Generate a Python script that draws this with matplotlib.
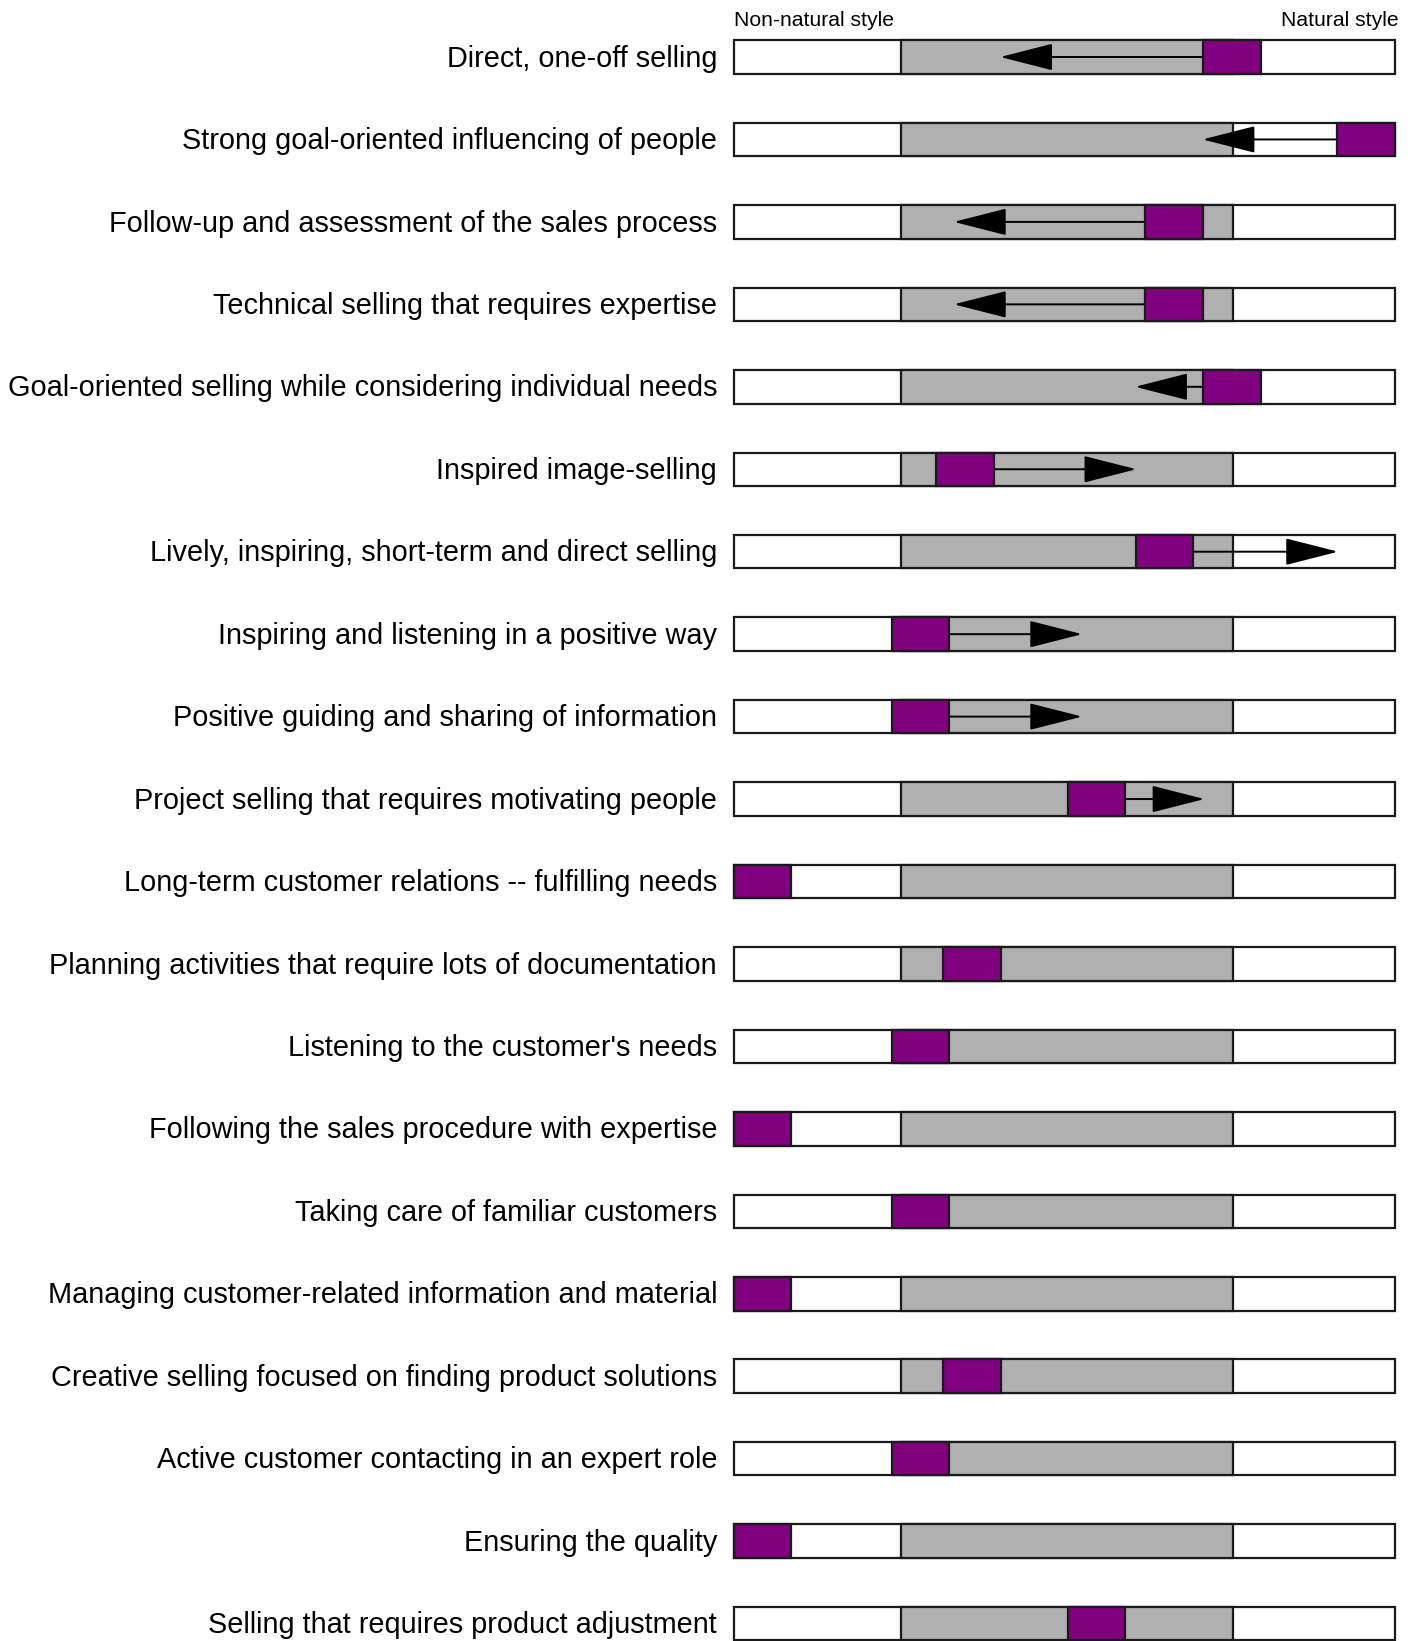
import matplotlib
matplotlib.use("Agg")
import matplotlib.pyplot as plt
from matplotlib.patches import Rectangle

categories = [
    "Direct, one-off selling",
    "Strong goal-oriented influencing of people",
    "Follow-up and assessment of the sales process",
    "Technical selling that requires expertise",
    "Goal-oriented selling while considering individual needs",
    "Inspired image-selling",
    "Lively, inspiring, short-term and direct selling",
    "Inspiring and listening in a positive way",
    "Positive guiding and sharing of information",
    "Project selling that requires motivating people",
    "Long-term customer relations -- fulfilling needs",
    "Planning activities that require lots of documentation",
    "Listening to the customer's needs",
    "Following the sales procedure with expertise",
    "Taking care of familiar customers",
    "Managing customer-related information and material",
    "Creative selling focused on finding product solutions",
    "Active customer contacting in an expert role",
    "Ensuring the quality",
    "Selling that requires product adjustment",
]

# position of the purple marker (left edge, scale 0-100)
marker_left = [71.0, 91.3, 62.2, 62.2, 71.0, 30.6, 60.8, 23.9, 23.9, 50.5,
               0.0, 31.7, 23.9, 0.0, 23.9, 0.0, 31.7, 23.9, 0.0, 50.5]
# arrow tip (None = no arrow)
arrow_tip = [40.3, 70.9, 33.3, 33.3, 60.7, 60.9, 91.4, 52.7, 52.7, 71.2,
             None, None, None, None, None, None, None, None, None, None]

natural_range = (25.3, 75.5)
marker_width = 8.7
header_left = "Non-natural style"
header_right = "Natural style"

W, H = 1416, 1641
fig = plt.figure(figsize=(W / 100, H / 100), dpi=100)
bar_l, bar_r = 733.6, 1395.0
row0, step = 57.0, 82.45
ax = fig.add_axes([bar_l / W, 0, (bar_r - bar_l) / W, 1])
ax.set_xlim(0, 100)
ax.set_ylim((H - row0) / step, -row0 / step)
ax.axis("off")

bh = 33.5 / step
edge = "#1a1a1a"
lw = 1.6
font = "Liberation Sans"

for i, cat in enumerate(categories):
    ax.add_patch(Rectangle((0, i - bh / 2), 100, bh, facecolor="white",
                           edgecolor=edge, lw=lw, zorder=1, clip_on=False))
    ax.add_patch(Rectangle((natural_range[0], i - bh / 2),
                           natural_range[1] - natural_range[0], bh,
                           facecolor="#b0b0b0", edgecolor=edge, lw=lw,
                           zorder=2, clip_on=False))
    ml = marker_left[i]
    tip = arrow_tip[i]
    if tip is not None:
        start = ml if tip < ml else ml + marker_width
        ax.annotate("", xy=(tip, i), xytext=(start, i),
                    arrowprops=dict(arrowstyle="-|>,head_length=1.69,head_width=0.43",
                                    mutation_scale=20, lw=1.4, color="black",
                                    shrinkA=0, shrinkB=0),
                    zorder=3, annotation_clip=False)
    ax.add_patch(Rectangle((ml, i - bh / 2), marker_width, bh,
                           facecolor="#800080", edgecolor=edge, lw=lw,
                           zorder=4, clip_on=False))
    ax.text(-2.5, i + 0.02, cat, ha="right", va="center", fontsize=20.8,
            family=font, color="black")

ax.text(0, -0.44, header_left, ha="left", va="center", fontsize=15.2,
        family=font, color="black")
ax.text(100.6, -0.44, header_right, ha="right", va="center", fontsize=15.2,
        family=font, color="black")

fig.savefig("out.png", dpi=100)
